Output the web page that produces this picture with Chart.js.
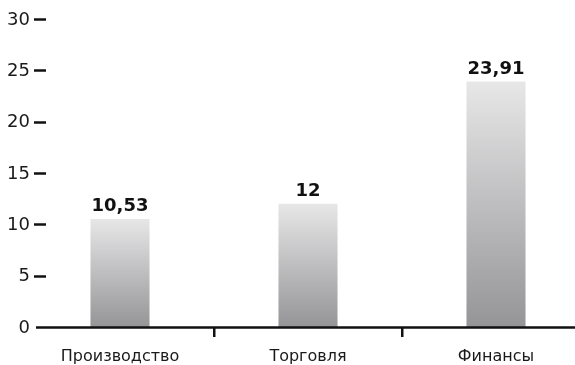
<!DOCTYPE html>
<html>
<head>
<meta charset="utf-8">
<script src="https://cdn.jsdelivr.net/npm/chart.js@4/dist/chart.umd.min.js"></script>
<style>
  html, body { margin: 0; padding: 0; background: #fff; overflow: hidden; }
  #wrap { position: relative; width: 590px; height: 365px; }
</style>
</head>
<body>
<div id="wrap"><canvas id="c"></canvas></div>
<script>
// Отрасли и значения
const categories = ['Производство', 'Торговля', 'Финансы'];
const values = [10.53, 12, 23.91];
const valueLabels = ['10,53', '12', '23,91'];
const yTicks = [0, 5, 10, 15, 20, 25, 30];

const FONT = "'DejaVu Sans', sans-serif";
const INK = '#111';

// Value-axis labels with short dashes, the baseline and the bar values,
// all positioned through the chart's scales
const axisMarks = {
  id: 'axisMarks',
  afterDatasetsDraw(chart) {
    const { ctx, scales, chartArea } = chart;
    const y = scales.y;
    ctx.save();
    ctx.strokeStyle = INK;
    ctx.lineWidth = 2.5;
    ctx.lineCap = 'butt';

    ctx.fillStyle = '#1a1a1a';
    ctx.font = "18px " + FONT;
    ctx.textAlign = 'right';
    ctx.textBaseline = 'middle';
    yTicks.forEach(v => {
      const yy = y.getPixelForValue(v);
      ctx.fillText(String(v), chartArea.left + 4, yy + 1);
      if (v === 0) return;
      const py = Math.round(yy) + 0.5;
      ctx.beginPath();
      ctx.moveTo(chartArea.left + 8, py);
      ctx.lineTo(chartArea.left + 20, py);
      ctx.stroke();
    });

    const p0 = Math.round(y.getPixelForValue(0)) + 0.5;
    ctx.beginPath();
    ctx.moveTo(chartArea.left + 10, p0);
    ctx.lineTo(chartArea.right, p0);
    ctx.stroke();

    // value labels above the bars
    const meta = chart.getDatasetMeta(0);
    ctx.fillStyle = INK;
    ctx.font = "bold 18px " + FONT;
    ctx.textAlign = 'center';
    ctx.textBaseline = 'alphabetic';
    meta.data.forEach((bar, i) => {
      ctx.fillText(valueLabels[i], bar.x, bar.y - 8);
    });
    ctx.restore();
  }
};

function barGradient(ctx) {
  const chart = ctx.chart;
  const { chartArea, scales } = chart;
  if (!chartArea || ctx.raw == null) return '#c0c0c2';
  const top = scales.y.getPixelForValue(ctx.raw);
  const bottom = scales.y.getPixelForValue(0);
  const g = chart.ctx.createLinearGradient(0, top, 0, bottom);
  g.addColorStop(0, '#e7e7e8');
  g.addColorStop(1, '#959597');
  return g;
}

new Chart(document.getElementById('c'), {
  type: 'bar',
  data: {
    labels: categories,
    datasets: [{
      data: values,
      backgroundColor: barGradient,
      borderWidth: 0,
      barPercentage: 0.314,
      categoryPercentage: 1
    }]
  },
  options: {
    responsive: true,
    maintainAspectRatio: false,
    animation: false,
    layout: { padding: { top: 19, left: 0, right: 0, bottom: 0 } },
    plugins: { legend: { display: false }, tooltip: { enabled: false } },
    scales: {
      x: {
        offset: true,
        afterFit(scale) { scale.height = 38; },
        border: { display: false },
        grid: {
          offset: true,
          drawOnChartArea: false,
          drawTicks: true,
          tickLength: 10,
          lineWidth: 2.5,
          tickColor: c => (c.index === 0 ? 'rgba(0,0,0,0)' : INK)
        },
        ticks: {
          color: '#1a1a1a',
          font: { family: FONT, size: 16 },
          padding: 10,
          maxRotation: 0
        }
      },
      y: {
        min: 0,
        max: 30,
        afterFit(scale) { scale.width = 26; },
        afterBuildTicks(scale) { scale.ticks = yTicks.map(v => ({ value: v })); },
        border: { display: false },
        grid: { display: false, drawTicks: false },
        ticks: { display: false }
      }
    }
  },
  plugins: [axisMarks]
});
</script>
</body>
</html>
